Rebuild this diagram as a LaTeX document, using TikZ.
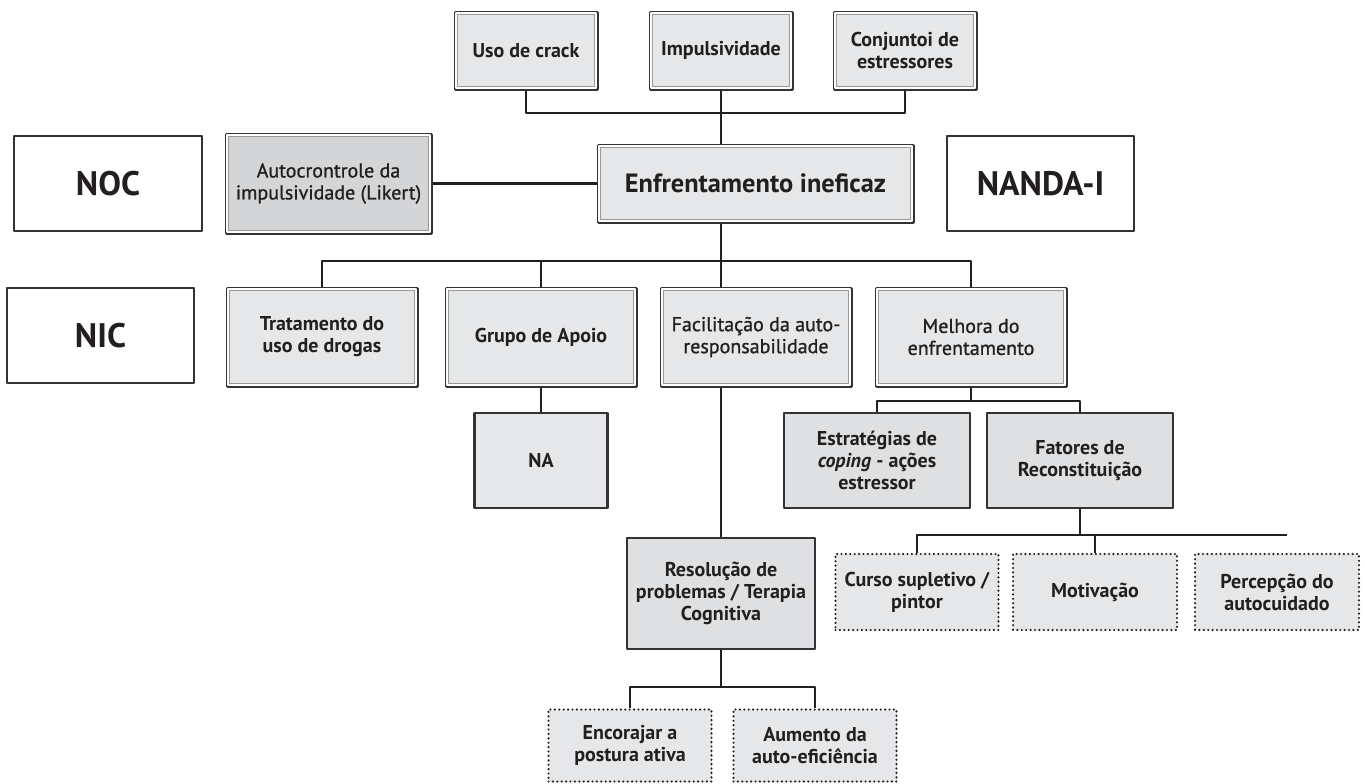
\documentclass[tikz,border=0pt]{standalone}
\usepackage{fontspec}
\setmainfont{PT Sans}
\newfontfamily\medfont{PT Sans}[FakeBold=1]
\definecolor{ink}{HTML}{231F20}
\definecolor{rim}{HTML}{333335}
\definecolor{lite}{HTML}{E6E7E8}
\definecolor{mid}{HTML}{D4D5D7}
\definecolor{soft}{HTML}{DFE0E1}
\begin{document}
\begin{tikzpicture}[x=0.5pt, y=-0.5pt, line join=round, text=ink,
	font=\bfseries\fontsize{10}{11}\selectfont,
	sz/.style 2 args={minimum width=#1, minimum height=#2},
	box/.style={draw=rim, line width=1.5pt, fill=lite, align=center, inner sep=0pt},
	lighter/.style={font=\medfont\fontsize{10}{11}\selectfont},
	single/.style={draw=rim, line width=1.4pt, fill=soft, align=center, inner sep=0pt},
	plain/.style={draw=rim, line width=1.2pt, fill=white, inner sep=0pt, font=\bfseries\fontsize{17}{20}\selectfont},
	dotbox/.style={draw=ink, fill=lite, line width=1.2pt, dash pattern=on 0pt off 2.2pt, line cap=round, align=center, inner sep=0pt},
	link/.style={draw=ink, line width=1.4pt}]
	\useasboundingbox (0,0) rectangle (1365,783);
	% causas
	\node[box, sz={71pt}{38.5pt}] (uso) at (526,50.5) {Uso de crack};
	\node[box, sz={71pt}{38.5pt}] (imp) at (721,50.5) {Impulsividade};
	\node[box, sz={71pt}{38.5pt}] (conj) at (905,50.5) {Conjuntoi de\\estressores};
	% linha do diagnostico
	\node[plain, sz={94pt}{47.5pt}] (noc) at (108,183.5) {NOC};
	\node[box, lighter, fill=mid, sz={102.5pt}{49.5pt}] (auto) at (328.5,183.5) {Autocrontrole da\\impulsividade (Likert)};
	\node[box, sz={157.5pt}{38.5pt}, font=\bfseries\fontsize{13.2}{15}\selectfont] (enf) at (755.5,183.5) {Enfrentamento ineficaz};
	\node[plain, sz={93.5pt}{47.5pt}] (nanda) at (1040.5,183.5) {NANDA-I};
	% intervencoes
	\node[plain, sz={93.5pt}{47.5pt}] (nic) at (100.5,335.5) {NIC};
	\node[box, sz={95pt}{49pt}] (trat) at (322,337) {Tratamento do\\uso de drogas};
	\node[box, sz={95pt}{49pt}] (grupo) at (541,337) {Grupo de Apoio};
	\node[box, lighter, sz={95pt}{49pt}] (facil) at (756,337) {Facilitação da auto-\\responsabilidade};
	\node[box, lighter, sz={95pt}{49pt}] (melh) at (971,337) {Melhora do\\enfrentamento};
	\node[single, fill=lite, sz={66.5pt}{47.5pt}] (na) at (541,460.5) {NA};
	\node[single, sz={93pt}{47.5pt}] (est) at (877,460.5) {Estratégias de\\\textit{coping} - ações\\estressor};
	\node[single, sz={93pt}{47.5pt}] (fat) at (1080,460.5) {Fatores de\\Reconstituição};
	\node[single, sz={94pt}{55.5pt}] (res) at (721,593.5) {Resolução de\\problemas / Terapia\\Cognitiva};
	\node[dotbox, sz={81.5pt}{38pt}] (curso) at (917,592) {Curso supletivo /\\pintor};
	\node[dotbox, sz={82pt}{38pt}] (motiv) at (1095,592) {Motivação};
	\node[dotbox, sz={82pt}{38pt}] (perc) at (1277,592) {Percepção do\\autocuidado};
	\node[dotbox, sz={81.5pt}{36pt}] (enc) at (630,745.5) {Encorajar a\\postura ativa};
	\node[dotbox, sz={81.5pt}{36pt}] (aum) at (815,745.5) {Aumento da\\auto-eficiência};
	% filete interno das caixas duplas
	\foreach \n in {uso,imp,conj,auto,enf,trat,grupo,facil,melh}{
		\draw[white, line width=0.8pt] ([shift={(1.15pt,-1.15pt)}]\n.north west) rectangle ([shift={(-1.15pt,1.15pt)}]\n.south east);
		\draw[gray!80, line width=0.6pt] ([shift={(1.85pt,-1.85pt)}]\n.north west) rectangle ([shift={(-1.85pt,1.85pt)}]\n.south east);
	}
	\coordinate (j1) at (721,113);
	\coordinate (j2) at (721,261);
	\coordinate (j3) at (971,401);
	\coordinate (busend) at (1287,535);
	\coordinate (j5) at (721,687);
	\draw[link] (uso.south) |- (j1) -| (conj.south);
	\draw[link] (imp.south) -- (imp.south |- enf.north);
	\draw[link] (auto.east) -- (enf.west);
	\draw[link] (trat.north) |- (j2) -| (melh.north);
	\draw[link] (j2 |- enf.south) -- (j2 |- facil.north);
	\draw[link] (grupo.north) -- (grupo.north |- j2);
	\draw[link] (grupo.south) -- (na.north);
	\draw[link] (j2 |- facil.south) -- (res.north);
	\draw[link] (melh.south) -- (j3);
	\draw[link] (est.north) |- (j3) -| (fat.north);
	\draw[link] (fat.south) -- (fat.south |- busend);
	\draw[link] (curso.north) |- (busend);
	\draw[link] (motiv.north) -- (motiv.north |- busend);
	\draw[link] (res.south) -- (j5);
	\draw[link] (enc.north) |- (j5) -| (aum.north);
\end{tikzpicture}
\end{document}
